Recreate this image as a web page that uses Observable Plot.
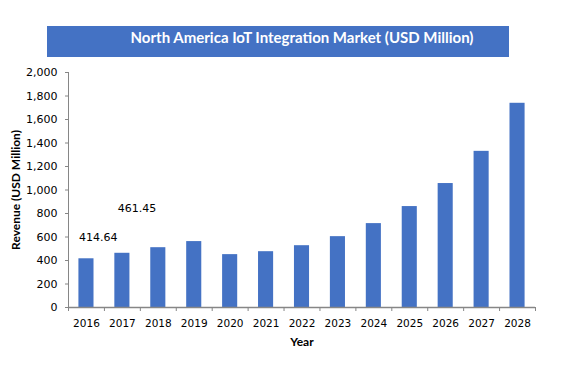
<!DOCTYPE html>
<html>
<head>
<meta charset="utf-8">
<script src="https://cdn.jsdelivr.net/npm/d3@7"></script>
<script src="https://cdn.jsdelivr.net/npm/@observablehq/plot@0.6"></script>
<style>
  html, body { margin: 0; padding: 0; background: #fff; }
  #wrap { position: relative; width: 569px; height: 365px; overflow: hidden; }
  #title {
    position: absolute; left: 47px; top: 26px; width: 462px; height: 31px;
    background: #4472C4; color: #fff; font-family: Lato, sans-serif; font-weight: bold;
    font-size: 15px; line-height: 23px; text-align: center; box-sizing: border-box; padding-left: 48px;
  }
  #chart { position: absolute; left: 0; top: 0; }
</style>
</head>
<body>
<div id="wrap">
  <div id="chart"></div>
  <div id="title">North America IoT Integration Market (USD Million)</div>
</div>
<script>
const years = [2016, 2017, 2018, 2019, 2020, 2021, 2022, 2023, 2024, 2025, 2026, 2027, 2028];
const revenue = [414.64, 461.45, 509, 561, 450, 475, 526, 603, 714, 859, 1055, 1329, 1738];
const yTicks = [0, 200, 400, 600, 800, 1000, 1200, 1400, 1600, 1800, 2000];
const labeledYears = [2016, 2017];
const labeledText = ["414.64", "461.45"];
const xTitle = "Year";
const yTitle = "Revenue (USD Million)";

const data = years.map((year, i) => ({year, value: revenue[i]}));
const labels = labeledYears.map((year, i) => ({year, value: revenue[years.indexOf(year)], text: labeledText[i]}));
const bounds = years.map(y => y - 0.5).concat([years[years.length - 1] + 0.5]);
const half = 0.21;
const axisColor = "#868686";
const fmt = d3.format(",");

const plot = Plot.plot({
  width: 569,
  height: 365,
  marginLeft: 68,
  marginRight: 34,
  marginTop: 72,
  marginBottom: 58,
  style: {fontFamily: "DejaVu Sans, sans-serif", fontSize: "10px", color: "#000", background: "transparent"},
  x: {domain: [bounds[0], bounds[bounds.length - 1]]},
  y: {domain: [0, 2000]},
  marks: [
    Plot.rectY(data, {x1: d => d.year - half, x2: d => d.year + half, y: "value", fill: "#4472C4"}),
    Plot.ruleX([bounds[0]], {stroke: axisColor, strokeWidth: 1}),
    Plot.ruleY([0], {stroke: axisColor, strokeWidth: 1.5}),
    Plot.axisY({ticks: yTicks, tickFormat: d => fmt(d), tickSize: 3, tickPadding: 8, stroke: axisColor, fill: "#000", fontSize: 11, label: null}),
    Plot.axisX({ticks: bounds, tickSize: 4, tickFormat: () => "", stroke: axisColor, label: null}),
    Plot.axisX({ticks: years, tickSize: 0, tickPadding: 12, tickFormat: d => String(d), fill: "#000", fontSize: 10.5, label: null}),
    Plot.text(labels.slice(0, 1), {x: d => d.year - half, y: "value", text: "text", textAnchor: "start", dy: -21, fontSize: 11, fill: "#000"}),
    Plot.text(labels.slice(1, 2), {x: d => d.year - half, y: "value", text: "text", textAnchor: "start", dx: 3, dy: -45, fontSize: 11, fill: "#000"}),
    Plot.text([xTitle], {frameAnchor: "bottom", dy: 38, fontWeight: "bold", fontFamily: "Lato, sans-serif", fontSize: 12, fill: "#000"}),
    Plot.text([yTitle], {frameAnchor: "left", textAnchor: "middle", rotate: -90, dx: -52, fontWeight: "bold", fontFamily: "Lato, sans-serif", fontSize: 12, fill: "#000"})
  ]
});
document.getElementById("chart").appendChild(plot);
</script>
</body>
</html>
